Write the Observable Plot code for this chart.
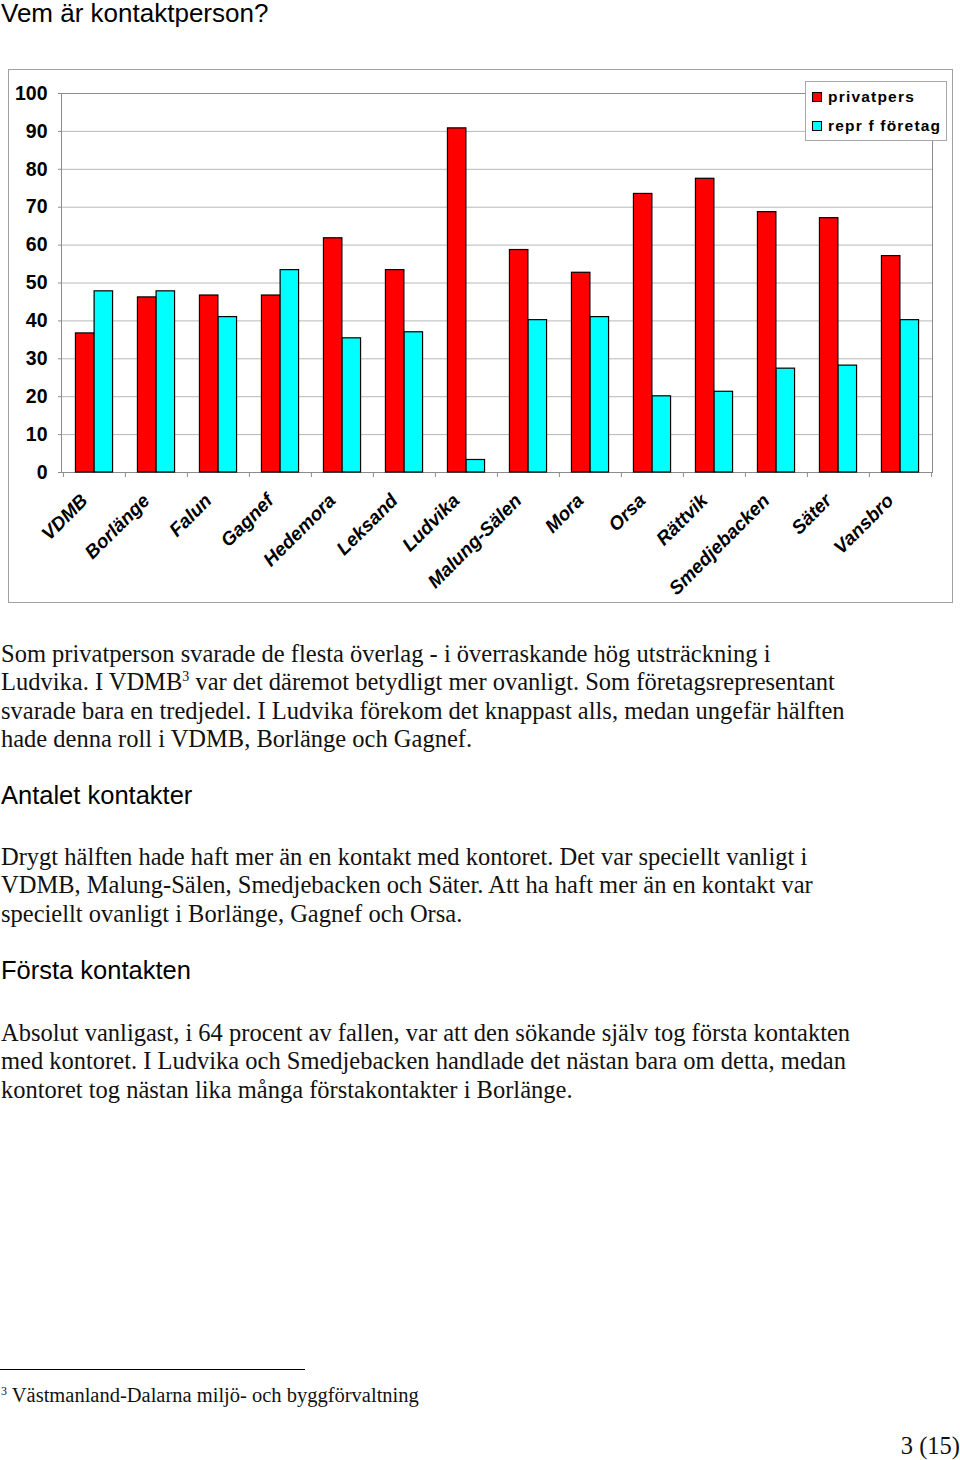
<!DOCTYPE html>
<html><head><meta charset="utf-8">
<script src="https://cdn.jsdelivr.net/npm/d3@7"></script>
<script src="https://cdn.jsdelivr.net/npm/@observablehq/plot@0.6"></script>
<style>
body{margin:0;width:960px;height:1460px;position:relative;background:#fff;overflow:hidden;}
.abs{position:absolute;}
.h{font-family:"Liberation Sans",Arial,sans-serif;font-size:25.5px;line-height:30px;color:#000;white-space:nowrap;left:1px;}
.p{font-family:"Liberation Serif","Times New Roman",serif;font-size:24.5px;line-height:28.3px;color:#111;white-space:nowrap;left:1px;}
.sup{font-size:14px;position:relative;top:-9px;line-height:0;}
#legend{left:805px;top:81px;width:140px;height:58px;border:1px solid #a8a8a8;background:#fff;font-family:"Liberation Sans",Arial,sans-serif;font-weight:bold;font-size:15.5px;letter-spacing:1.2px;color:#000;}
.li{position:absolute;left:6px;white-space:nowrap;line-height:18px;}
.sw{display:inline-block;width:8px;height:8px;border:1px solid #000;margin-right:6px;vertical-align:0px;}
</style></head><body>
<div class="abs h" style="top:0px;font-size:26px;line-height:26px">Vem är kontaktperson?</div>
<div class="abs" style="left:8px;top:69px;width:943px;height:532px;border:1px solid #a0a0a0"></div>
<div id="chart" class="abs" style="left:0;top:60px"></div>
<div id="legend" class="abs"></div>

<div class="abs p" style="top:640px">Som privatperson svarade de flesta överlag - i överraskande hög utsträckning i<br>Ludvika. I VDMB<span class="sup">3</span> var det däremot betydligt mer ovanligt. Som företagsrepresentant<br>svarade bara en tredjedel. I Ludvika förekom det knappast alls, medan ungefär hälften<br>hade denna roll i VDMB, Borlänge och Gagnef.</div>
<div class="abs h" style="top:780px">Antalet kontakter</div>
<div class="abs p" style="top:843px">Drygt hälften hade haft mer än en kontakt med kontoret. Det var speciellt vanligt i<br>VDMB, Malung-Sälen, Smedjebacken och Säter. Att ha haft mer än en kontakt var<br>speciellt ovanligt i Borlänge, Gagnef och Orsa.</div>
<div class="abs h" style="top:955px">Första kontakten</div>
<div class="abs p" style="top:1019px">Absolut vanligast, i 64 procent av fallen, var att den sökande själv tog första kontakten<br>med kontoret. I Ludvika och Smedjebacken handlade det nästan bara om detta, medan<br>kontoret tog nästan lika många förstakontakter i Borlänge.</div>
<div class="abs" style="left:0;top:1369px;width:305px;height:1px;background:#000"></div>
<div class="abs p" style="top:1383px;font-size:20.5px;line-height:25px"><span style="font-size:12px;position:relative;top:-7px">3</span> Västmanland-Dalarna miljö- och byggförvaltning</div>
<div class="abs p" style="top:1432px;left:auto;right:0px">3 (15)</div>

<script>
const categories = ["VDMB","Borlänge","Falun","Gagnef","Hedemora","Leksand","Ludvika","Malung-Sälen","Mora","Orsa","Rättvik","Smedjebacken","Säter","Vansbro"];
const privatpers  = [36.7,46.2,46.7,46.7,61.8,53.4,90.8,58.7,52.7,73.5,77.5,68.7,67.1,57.1];
const reprForetag = [47.8,47.8,41.0,53.4,35.4,37.0,3.3,40.2,41.0,20.1,21.3,27.4,28.2,40.2];
const seriesNames = ["privatpers","repr f företag"];
const seriesColors = ["#ff0000","#00ffff"];
const yTicks = [0,10,20,30,40,50,60,70,80,90,100];

const W = 960, H = 550, mL = 61, mR = 28, mT = 33, mB = 138;
const step = (W - mL - mR) / categories.length;

const chart = Plot.plot({
  width: W, height: H,
  marginLeft: mL, marginRight: mR, marginTop: mT, marginBottom: mB,
  style: {background: "transparent", overflow: "visible"},
  x: {domain: categories, padding: 0, axis: null},
  y: {domain: [0, 100], axis: null},
  marks: [
    Plot.ruleY(yTicks, {stroke: "#b8b8b8", strokeWidth: 1}),
    Plot.frame({stroke: "#8c8c8c", strokeWidth: 1}),
    Plot.barY(categories, {x: d => d, y: (d, i) => privatpers[i], fill: seriesColors[0], stroke: "#000", strokeWidth: 1.2, insetLeft: step * 0.2, insetRight: step * 0.5}),
    Plot.barY(categories, {x: d => d, y: (d, i) => reprForetag[i], fill: seriesColors[1], stroke: "#000", strokeWidth: 1.2, insetLeft: step * 0.5, insetRight: step * 0.2}),
    Plot.ruleX(categories, {x: d => d, dx: -step / 2, y1: 0, y2: 0, insetBottom: -5, stroke: "#8c8c8c"}),
    Plot.ruleX(categories.slice(-1), {x: d => d, dx: step / 2, y1: 0, y2: 0, insetBottom: -5, stroke: "#8c8c8c"}),
    Plot.axisY({ticks: yTicks, tickSize: 3, tickPadding: 11, tickFormat: d => d, fontSize: 19.5, fontWeight: "bold", fill: "#000", stroke: "#8c8c8c"}),
    Plot.text(categories, {x: d => d, y: 0, text: d => d, rotate: -45, textAnchor: "end", lineAnchor: "middle", dx: -10, dy: 25, fontSize: 19, fontWeight: "bold", fontStyle: "italic", fill: "#000", fontFamily: "Liberation Sans, Arial, sans-serif"})
  ]
});
chart.style.fontFamily = "Liberation Sans, Arial, sans-serif";
document.getElementById("chart").appendChild(chart);

const legend = document.getElementById("legend");
seriesNames.forEach((name, i) => {
  const item = document.createElement("div");
  item.className = "li";
  item.style.top = (i === 0 ? 6 : 35) + "px";
  item.innerHTML = `<span class="sw" style="background:${seriesColors[i]}"></span>${name}`;
  legend.appendChild(item);
});
</script>
</body></html>
